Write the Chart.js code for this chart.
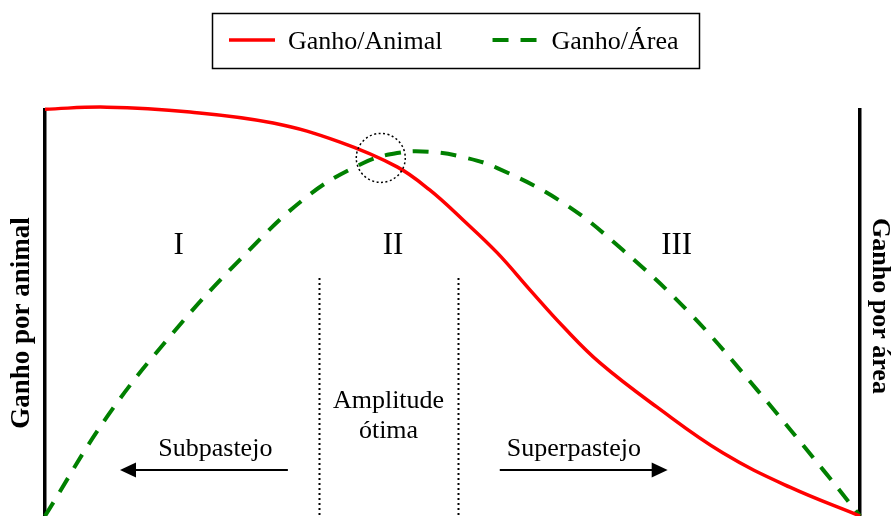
<!DOCTYPE html>
<html lang="pt">
<head>
<meta charset="utf-8">
<title>Ganho por animal e ganho por área</title>
<script src="https://cdn.jsdelivr.net/npm/chart.js@4.4.1/dist/chart.umd.min.js"></script>
<style>
  html, body { margin: 0; padding: 0; background: #fff; }
  #wrap { width: 893px; height: 516px; }
</style>
</head>
<body>
<div id="wrap"><canvas id="grafico" width="893" height="516"></canvas></div>
<script>
// Pressão de pastejo (eixo x, 0 = leve, 100 = intensa) e ganhos relativos
const pressaoAnimal = [0, 7.6, 17.8, 28.0, 36.2, 43.2, 47.2, 51.3, 55.5, 59.5, 63.6, 68.1, 75.1, 83.2, 91.4, 100];
const ganhoAnimal = [100.2, 100.7, 99.5, 96.8, 92.1, 86.0, 80.3, 72.9, 64.8, 55.7, 46.6, 37.7, 26.8, 15.5, 7.1, 0];
const pressaoArea = [0, 7.6, 15.7, 23.9, 32.1, 39.0, 43.2, 47.2, 51.3, 55.5, 63.6, 70.9, 79.1, 87.4, 95.5, 100];
const ganhoArea = [0, 24.4, 45.1, 63.1, 78.6, 86.9, 89.4, 89.7, 88.4, 85.7, 77.1, 65.5, 50.0, 31.0, 11.3, 0];

// Zonas e limites da amplitude ótima
const zonas = ['I', 'II', 'III'];
const zonasX = [16.4, 42.7, 77.5];
const limitesOtimos = [33.6, 50.7];
const cruzamento = { x: 41.2, y: 88.2 }; // ponto onde as curvas se cruzam

// Títulos dos eixos verticais
const tituloEsquerdo = 'Ganho por animal';
const tituloDireito = 'Ganho por área';

const fonte = '"Liberation Serif", "Times New Roman", serif';

function pares(xs, ys) {
    return xs.map((x, i) => ({ x: x, y: ys[i] }));
}

function seta(ctx, x1, x2, y) {
    // linha com ponta triangular em x2
    const dir = x2 > x1 ? 1 : -1;
    ctx.save();
    ctx.strokeStyle = '#000';
    ctx.fillStyle = '#000';
    ctx.lineWidth = 2;
    ctx.beginPath();
    ctx.moveTo(x1, y);
    ctx.lineTo(x2 - dir * 14, y);
    ctx.stroke();
    ctx.beginPath();
    ctx.moveTo(x2, y);
    ctx.lineTo(x2 - dir * 16, y - 7.5);
    ctx.lineTo(x2 - dir * 16, y + 7.5);
    ctx.closePath();
    ctx.fill();
    ctx.restore();
}

function textoGirado(ctx, texto, x, y, angulo, tamanho) {
    ctx.save();
    ctx.translate(x, y);
    ctx.rotate(angulo);
    ctx.font = 'bold ' + tamanho + 'px ' + fonte;
    ctx.fillStyle = '#000';
    ctx.textAlign = 'center';
    ctx.textBaseline = 'middle';
    ctx.fillText(texto, 0, 0);
    ctx.restore();
}

// Anotações: zonas, linhas pontilhadas, setas e círculo
const esquemaPlugin = {
    id: 'esquema',
    afterDatasetsDraw(chart) {
        const ctx = chart.ctx;
        const sx = chart.scales.x;
        const sy = chart.scales.y;
        ctx.save();
        ctx.fillStyle = '#000';
        ctx.textAlign = 'center';
        ctx.textBaseline = 'middle';
        ctx.font = '31px ' + fonte;
        zonas.forEach((z, i) => {
            ctx.fillText(z, sx.getPixelForValue(zonasX[i]), sy.getPixelForValue(66.5));
        });

        // limites da amplitude ótima
        ctx.strokeStyle = '#000';
        ctx.lineWidth = 2;
        ctx.setLineDash([2, 3]);
        limitesOtimos.forEach(v => {
            const px = Math.round(sx.getPixelForValue(v)) + 0.5;
            ctx.beginPath();
            ctx.moveTo(px, sy.getPixelForValue(58.6));
            ctx.lineTo(px, sy.getPixelForValue(0));
            ctx.stroke();
        });

        // círculo pontilhado no cruzamento
        ctx.lineWidth = 1.5;
        ctx.setLineDash([2, 2.5]);
        ctx.beginPath();
        ctx.arc(sx.getPixelForValue(cruzamento.x), sy.getPixelForValue(cruzamento.y), 24.5, 0, Math.PI * 2);
        ctx.stroke();
        ctx.setLineDash([]);

        ctx.font = '26px ' + fonte;
        ctx.textBaseline = 'alphabetic';
        const meio = sx.getPixelForValue((limitesOtimos[0] + limitesOtimos[1]) / 2);
        ctx.fillText('Amplitude', meio, sy.getPixelForValue(26.6));
        ctx.fillText('ótima', meio, sy.getPixelForValue(19.2));
        ctx.fillText('Subpastejo', sx.getPixelForValue(20.9), sy.getPixelForValue(14.8));
        ctx.fillText('Superpastejo', sx.getPixelForValue(64.9), sy.getPixelForValue(14.8));
        ctx.restore();

        const ySeta = sy.getPixelForValue(11.3);
        seta(ctx, sx.getPixelForValue(29.8), sx.getPixelForValue(9.2), ySeta);
        seta(ctx, sx.getPixelForValue(55.8), sx.getPixelForValue(76.4), ySeta);
    },
    afterDraw(chart) {
        const ctx = chart.ctx;
        const area = chart.chartArea;
        // títulos dos eixos
        textoGirado(ctx, tituloEsquerdo, area.left - 23, 323, -Math.PI / 2, 27);
        textoGirado(ctx, tituloDireito, area.right + 20, 306, Math.PI / 2, 26);

        // legenda em caixa, como no original
        ctx.save();
        ctx.strokeStyle = '#000';
        ctx.lineWidth = 1.5;
        ctx.strokeRect(212.5, 13.5, 487, 55);
        ctx.font = '26px ' + fonte;
        ctx.textBaseline = 'alphabetic';
        ctx.textAlign = 'left';
        let x = 229;
        chart.data.datasets.forEach(ds => {
            ctx.strokeStyle = ds.borderColor;
            ctx.lineWidth = ds.borderWidth;
            ctx.setLineDash(ds.borderDash || []);
            ctx.beginPath();
            ctx.moveTo(x, 40);
            ctx.lineTo(x + 46, 40);
            ctx.stroke();
            x += 46 + 13;
            ctx.fillStyle = '#000';
            ctx.fillText(ds.label, x, 49);
            x += ctx.measureText(ds.label).width + 50;
        });
        ctx.restore();
    }
};

const eixoVertical = (posicao) => ({
    position: posicao, min: 0, max: 100, display: true,
    ticks: { display: false },
    grid: { display: false, drawTicks: false },
    border: { display: true, color: '#000', width: 3.5 }
});

new Chart(document.getElementById('grafico'), {
    type: 'line',
    data: {
        datasets: [{
            label: 'Ganho/Animal',
            data: pares(pressaoAnimal, ganhoAnimal),
            borderColor: '#ff0000',
            borderWidth: 3.5,
            pointRadius: 0,
            tension: 0.4,
            clip: false,
            yAxisID: 'y'
        }, {
            label: 'Ganho/Área',
            data: pares(pressaoArea, ganhoArea),
            borderColor: '#008000',
            borderWidth: 4,
            borderDash: [16, 12],
            pointRadius: 0,
            tension: 0.4,
            clip: false,
            yAxisID: 'y'
        }]
    },
    options: {
        responsive: false,
        animation: false,
        events: [],
        layout: { autoPadding: false, padding: { top: 110, left: 45, right: 33, bottom: 0 } },
        plugins: {
            legend: { display: false },
            tooltip: { enabled: false }
        },
        scales: {
            x: { type: 'linear', min: 0, max: 100, display: false },
            y: eixoVertical('left'),
            y2: eixoVertical('right')
        }
    },
    plugins: [esquemaPlugin]
});
</script>
</body>
</html>
